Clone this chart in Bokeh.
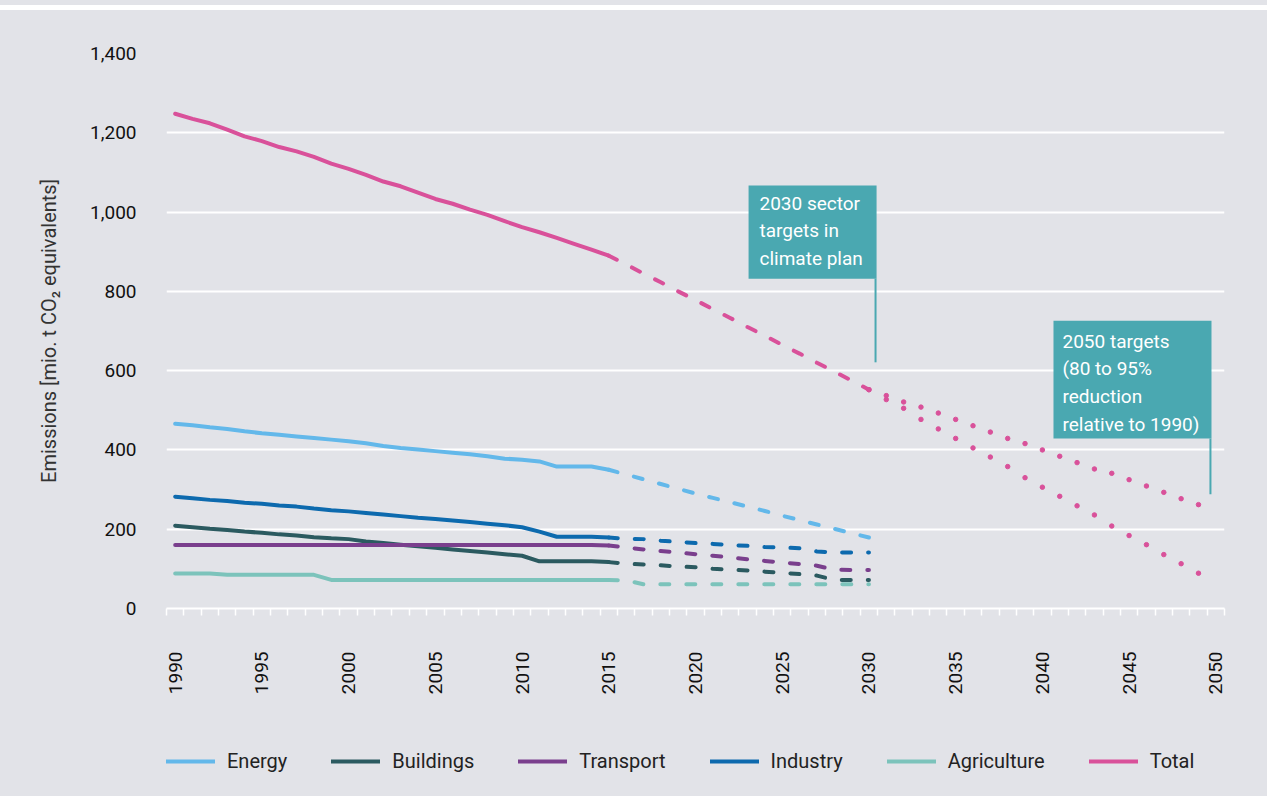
import math
from bokeh.plotting import figure
from bokeh.layouts import column
from bokeh.models import (Range1d, FixedTicker, NumeralTickFormatter, Legend, LegendItem,
                          BoxAnnotation, Label, Arrow, Spacer)
from bokeh.embed import file_html
from bokeh.resources import INLINE

# ---------------- data ----------------
hist_years = list(range(1990, 2016))
plan_years = list(range(2015, 2031))
target_years = list(range(2030, 2050))

energy_hist = [466, 462, 457, 453, 447, 442, 438, 434, 430, 426, 422, 417, 410, 405, 401,
               397, 393, 389, 384, 378, 375, 371, 358, 358, 358, 350]
buildings_hist = [209, 205, 201, 198, 194, 191, 187, 184, 180, 177, 175, 169, 165, 161, 157,
                  153, 149, 145, 141, 137, 133, 119, 119, 119, 119, 117]
transport_hist = [160, 160, 160, 160, 160, 160, 160, 160, 160, 160, 160, 160, 160, 160, 160,
                  160, 160, 160, 160, 160, 160, 160, 160, 160, 160, 159]
industry_hist = [282, 278, 274, 271, 267, 264, 260, 257, 252, 248, 245, 241, 237, 233, 229,
                 226, 222, 218, 214, 210, 205, 194, 181, 181, 181, 179]
agriculture_hist = [88, 88, 88, 85, 85, 85, 85, 85, 85, 72, 72, 72, 72, 72, 72,
                    72, 72, 72, 72, 72, 72, 72, 72, 72, 72, 72]
total_hist = [1248, 1235, 1224, 1208, 1191, 1179, 1164, 1153, 1139, 1122, 1109, 1094, 1077,
              1065, 1049, 1033, 1021, 1006, 993, 977, 962, 949, 935, 920, 905, 890]

energy_plan = [350, 338, 326, 314, 302, 290, 279, 268, 257, 246, 234, 223, 212, 201, 190, 179]
buildings_plan = [117, 113, 111, 109, 106, 104, 100, 98, 96, 93, 90, 87, 83, 72, 72, 72]
transport_plan = [159, 154, 149, 145, 141, 137, 133, 129, 124, 120, 116, 112, 108, 98, 97, 97]
industry_plan = [179, 176, 175, 171, 168, 165, 163, 160, 158, 155, 154, 152, 144, 141, 141, 141]
agriculture_plan = [72, 71, 61, 61, 61, 61, 61, 61, 61, 61, 61, 61, 61, 61, 61, 61]
total_plan = [890, 868, 845, 823, 800, 778, 755, 733, 710, 688, 665, 643, 620, 598, 575, 552]

total_target_80 = [552, 537, 521, 508, 493, 477, 461, 445, 429, 416, 400, 384, 368, 352,
                   341, 325, 309, 293, 277, 262]
total_target_95 = [552, 527, 505, 477, 453, 429, 405, 382, 358, 330, 306, 283, 259, 236,
                   208, 184, 161, 136, 113, 89]

series_names = ["Energy", "Buildings", "Transport", "Industry", "Agriculture", "Total"]
series_colors = ["#63b8ea", "#2b5a60", "#7a3f8d", "#0d6aae", "#7cc3bb", "#d9519a"]
hist_values = [energy_hist, buildings_hist, transport_hist, industry_hist, agriculture_hist, total_hist]
plan_values = [energy_plan, buildings_plan, transport_plan, industry_plan, agriculture_plan, total_plan]

y_ticks = [0, 200, 400, 600, 800, 1000, 1200, 1400]
x_label_years = list(range(1990, 2051, 5))
x_boundaries = [1989.5 + k for k in range(62)]

callout_2030 = "2030 sector\ntargets in\nclimate plan"
callout_2050 = "2050 targets\n(80 to 95%\nreduction\nrelative to 1990)"
y_title = "Emissions [mio. t CO\u2082 equivalents]"

# ---------------- styles ----------------
BG = "#e2e3e8"
TEAL = "#4aa8b1"
FONT = "Roboto"
W = 1267

p = figure(width=W, height=720, output_backend="svg", toolbar_location=None,
           x_range=Range1d(1989.5, 2050.5), y_range=Range1d(0, 1400),
           min_border_left=166, min_border_right=43, min_border_top=43, min_border_bottom=122)
p.background_fill_color = BG
p.border_fill_color = BG
p.outline_line_color = None

# y axis
p.yaxis.ticker = FixedTicker(ticks=y_ticks)
p.yaxis.formatter = NumeralTickFormatter(format="0,0")
p.yaxis.axis_line_color = None
p.yaxis.major_tick_line_color = None
p.yaxis.minor_tick_line_color = None
p.yaxis.major_label_standoff = 24
p.yaxis.major_label_text_font = FONT
p.yaxis.major_label_text_font_size = "19px"
p.yaxis.major_label_text_color = "#111111"
p.yaxis.axis_label = y_title
p.yaxis.axis_label_text_font = FONT
p.yaxis.axis_label_text_font_style = "normal"
p.yaxis.axis_label_text_font_size = "20px"
p.yaxis.axis_label_text_color = "#333333"
p.yaxis.axis_label_standoff = 26

# x axis
p.xaxis.ticker = FixedTicker(ticks=x_label_years, minor_ticks=x_boundaries)
p.xaxis.axis_line_color = "white"
p.xaxis.axis_line_width = 2
p.xaxis.major_tick_line_color = None
p.xaxis.major_tick_out = 0
p.xaxis.major_tick_in = 0
p.xaxis.minor_tick_line_color = "white"
p.xaxis.minor_tick_line_width = 1.5
p.xaxis.minor_tick_out = 7
p.xaxis.minor_tick_in = 0
p.xaxis.major_label_orientation = math.pi / 2
p.xaxis.major_label_standoff = 36
p.xaxis.major_label_text_font = FONT
p.xaxis.major_label_text_font_size = "19px"
p.xaxis.major_label_text_color = "#111111"

# grid
p.xgrid.grid_line_color = None
p.ygrid.grid_line_color = "white"
p.ygrid.grid_line_width = 2

# ---------------- lines ----------------
for name, color, hv, pv in zip(series_names, series_colors, hist_values, plan_values):
    p.line(hist_years, hv, line_color=color, line_width=4, line_cap="round", line_join="round")
    p.line(plan_years, pv, line_color=color, line_width=4, line_cap="round",
           line_dash="9 17")

p.scatter(target_years, total_target_80, size=4.5, color=series_colors[5])
p.scatter(target_years, total_target_95, size=4.5, color=series_colors[5])

# ---------------- callouts ----------------
p.add_layout(BoxAnnotation(left=2023.06, right=2030.44, top=1067, bottom=832,
                           fill_color=TEAL, fill_alpha=1, line_color=None))
p.add_layout(Arrow(end=None, x_start=2030.38, y_start=832, x_end=2030.38, y_end=621,
                   line_color=TEAL, line_width=2))
p.add_layout(Label(x=2023.69, y=1051, text=callout_2030, text_baseline="top",
                   text_color="white", text_font=FONT, text_font_size="19px",
                   text_line_height=1.2))

p.add_layout(BoxAnnotation(left=2040.64, right=2049.75, top=726, bottom=429,
                           fill_color=TEAL, fill_alpha=1, line_color=None))
p.add_layout(Arrow(end=None, x_start=2049.69, y_start=429, x_end=2049.69, y_end=288,
                   line_color=TEAL, line_width=2))
p.add_layout(Label(x=2041.16, y=703, text=callout_2050, text_baseline="top",
                   text_color="white", text_font=FONT, text_font_size="19px",
                   text_line_height=1.2))

# ---------------- legend strip (same series, drawn outside its visible range) ----------------
lg = figure(width=W, height=66, output_backend="svg", toolbar_location=None,
            x_range=Range1d(1989.5, 2050.5), y_range=Range1d(-3000, -2000),
            x_axis_location=None, y_axis_location=None,
            min_border_left=166, min_border_right=43, min_border_top=0, min_border_bottom=0)
lg.background_fill_alpha = 0
lg.border_fill_color = BG
lg.outline_line_color = None
lg.grid.visible = False

legend_items = []
for name, color, hv in zip(series_names, series_colors, hist_values):
    r = lg.line(hist_years, hv, line_color=color, line_width=4, line_cap="round")
    legend_items.append(LegendItem(label=name, renderers=[r]))

legend = Legend(items=legend_items, orientation="horizontal", location=(0, 23),
                glyph_width=49, glyph_height=20, label_standoff=12, spacing=44,
                padding=0, margin=0, label_height=20,
                label_text_font=FONT, label_text_font_size="20px", label_text_color="#222222",
                background_fill_alpha=0, border_line_color=None)
lg.add_layout(legend, "center")

top_gap = Spacer(width=W, height=5, styles={"background-color": BG})
top_band = Spacer(width=W, height=5, styles={"background-color": "white"})

layout = column(top_gap, top_band, p, lg, spacing=0, styles={"background-color": BG})
open("out.html", "w").write(file_html(layout, INLINE))
